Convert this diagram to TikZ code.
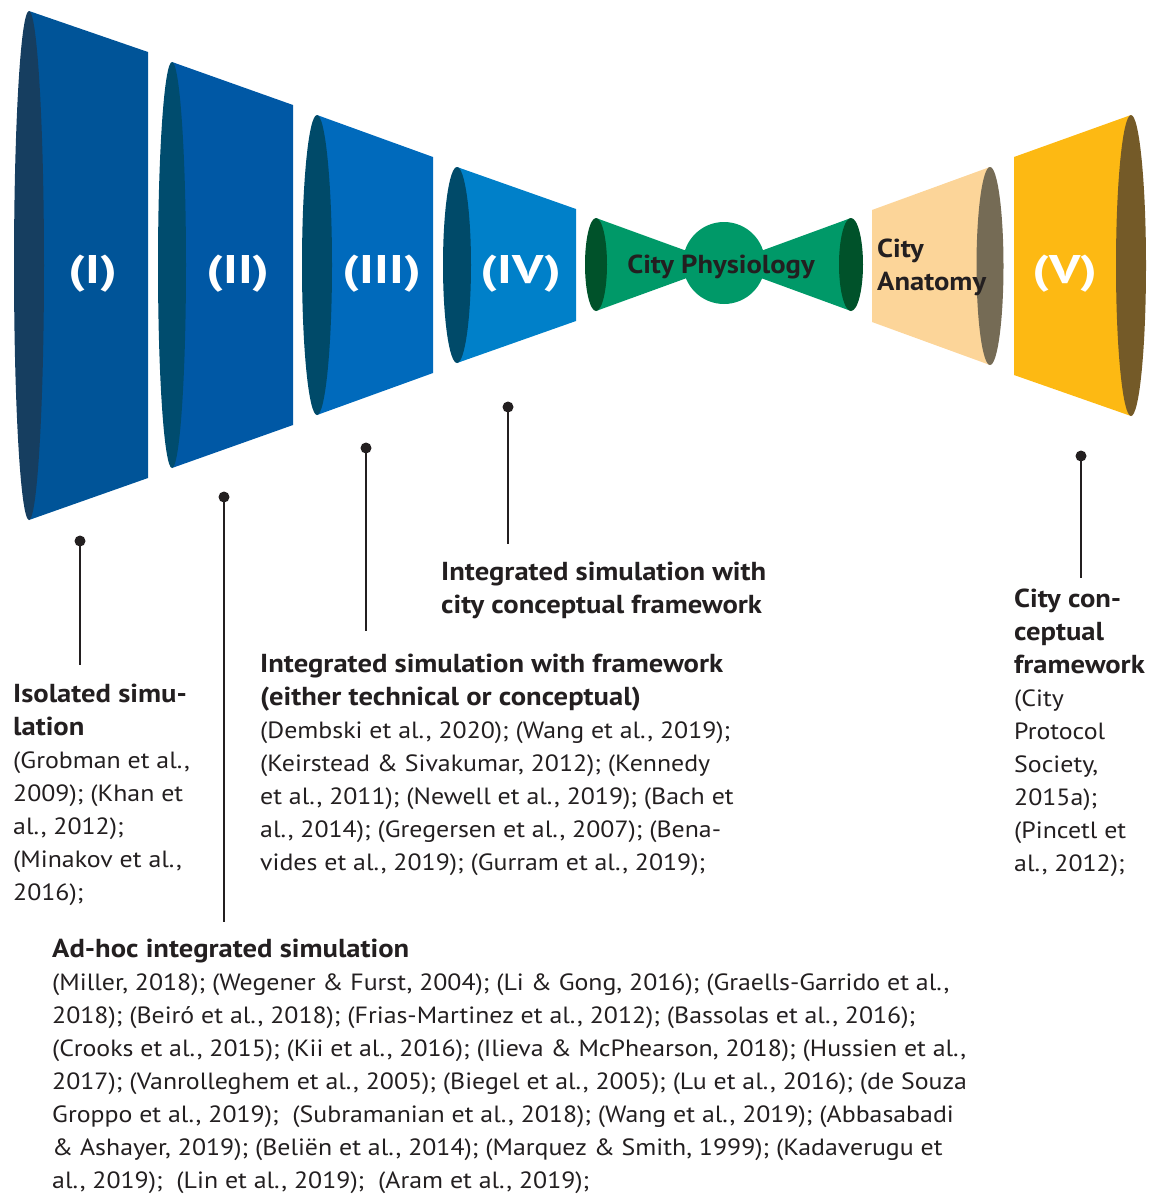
\documentclass[tikz,border=0pt]{standalone}
\usepackage{fontspec}
\setmainfont{PT Sans}[FakeStretch=1.1]
\newfontfamily\romfont{PT Sans}[FakeStretch=1.3]
\definecolor{bodyI}{RGB}{0,84,152}
\definecolor{ellI}{RGB}{22,62,96}
\definecolor{bodyII}{RGB}{0,88,165}
\definecolor{ellII}{RGB}{0,76,110}
\definecolor{bodyIII}{RGB}{0,106,188}
\definecolor{ellIII}{RGB}{0,74,105}
\definecolor{bodyIV}{RGB}{0,128,201}
\definecolor{ellIV}{RGB}{0,74,105}
\definecolor{physG}{RGB}{0,153,104}
\definecolor{physD}{RGB}{0,82,42}
\definecolor{anaB}{RGB}{252,213,153}
\definecolor{anaE}{RGB}{117,107,85}
\definecolor{vB}{RGB}{253,185,19}
\definecolor{vE}{RGB}{116,90,40}
\definecolor{ink}{RGB}{35,31,32}
\newcommand\hd{\bfseries\fontsize{26}{33}\selectfont}
\begin{document}
\begin{tikzpicture}[x=1pt,y=-1pt,
  dot/.style={circle,fill=ink,inner sep=0pt,minimum size=11pt},
  stem/.style={line width=2pt,ink},
  txt/.style={anchor=base west,inner sep=0pt,text=ink,font=\fontsize{23.5}{33}\selectfont},
  roman/.style={anchor=base,inner sep=0pt,text=white,font=\romfont\bfseries\fontsize{40}{44}\selectfont},
  dark/.style={anchor=base,inner sep=0pt,text=ink,font=\bfseries\fontsize{26}{33}\selectfont}]
\useasboundingbox (0,0) rectangle (1153,1195);
% (I)
\fill[bodyI] (29,11) -- (148,52) -- (148,478) -- (29,520) -- cycle;
\fill[ellI] (29,265.5) ellipse [x radius=15pt, y radius=254.5pt];
\node[roman] (rI) at (93,283) {(I)};
% (II)
\fill[bodyII] (172,62) -- (293,105) -- (293,425) -- (172,468) -- cycle;
\fill[ellII] (172,265) ellipse [x radius=14pt, y radius=203pt];
\node[roman] (rII) at (238,283) {(II)};
% (III)
\fill[bodyIII] (317,115) -- (433,157) -- (433,373) -- (317,415) -- cycle;
\fill[ellIII] (317,265) ellipse [x radius=15pt, y radius=150pt];
\node[roman] (rIII) at (382,283) {(III)};
% (IV)
\fill[bodyIV] (457,167) -- (576,209) -- (576,321) -- (457,363) -- cycle;
\fill[ellIV] (457,265) ellipse [x radius=14pt, y radius=98pt];
\node[roman] (rIV) at (521,283) {(IV)};
% City physiology
\fill[physG] (596,218) -- (724,264.5) -- (596,311) -- cycle;
\fill[physG] (851,218) -- (724,264.5) -- (851,311) -- cycle;
\fill[physG] (724,263) circle [radius=41pt];
\fill[physD] (596,264.5) ellipse [x radius=11pt, y radius=46.5pt];
\fill[physD] (851,264.5) ellipse [x radius=12pt, y radius=46.5pt];
\node[dark] (phys) at (721,273) {City Physiology};
% City anatomy
\fill[anaB] (872,210) -- (990,167) -- (990,365) -- (872,322) -- cycle;
\fill[anaE] (990,266) ellipse [x radius=13.5pt, y radius=99pt];
\node[dark,anchor=base west] (ana) at (877,257)
  {\begin{tabular}[t]{@{}l@{}}City\\Anatomy\end{tabular}};
% (V)
\fill[vB] (1014,157) -- (1131,115) -- (1131,416) -- (1014,375) -- cycle;
\fill[vE] (1131,265.5) ellipse [x radius=15pt, y radius=150.5pt];
\node[roman] (rV) at (1065,283) {(V)};
% stems
\node[dot] (d1) at (80,541) {};
\coordinate (e1) at (80,665);
\draw[stem] (d1.center) -- (e1);
\node[dot] (d2) at (224,497) {};
\coordinate (e2) at (224,922);
\draw[stem] (d2.center) -- (e2);
\node[dot] (d3) at (366,448) {};
\coordinate (e3) at (366,631);
\draw[stem] (d3.center) -- (e3);
\node[dot] (d4) at (508,407) {};
\coordinate (e4) at (508,544);
\draw[stem] (d4.center) -- (e4);
\node[dot] (d5) at (1081,456) {};
\coordinate (e5) at (1081,578);
\draw[stem] (d5.center) -- (e5);
% texts
\node[txt] (t1) at (13,702) {\begin{tabular}[t]{@{}l@{}}
{\hd Isolated simu-}\\
{\hd lation}\\
(Grobman et al.,\\
2009); (Khan et\\
al., 2012);\\
(Minakov et al.,\\
2016);
\end{tabular}};
\node[txt] (t3) at (260,672) {\begin{tabular}[t]{@{}l@{}}
{\hd Integrated simulation with framework}\\
{\hd (either technical or conceptual)}\\
(Dembski et al., 2020); (Wang et al., 2019);\\
(Keirstead \& Sivakumar, 2012); (Kennedy\\
et al., 2011); (Newell et al., 2019); (Bach et\\
al., 2014); (Gregersen et al., 2007); (Bena-\\
vides et al., 2019); (Gurram et al., 2019);
\end{tabular}};
\node[txt] (t4) at (441,580) {\begin{tabular}[t]{@{}l@{}}
{\hd Integrated simulation with}\\
{\hd city conceptual framework}
\end{tabular}};
\node[txt] (t5) at (1014,607) {\begin{tabular}[t]{@{}l@{}}
{\hd City con-}\\
{\hd ceptual}\\
{\hd framework}\\
(City\\
Protocol\\
Society,\\
2015a);\\
(Pincetl et\\
al., 2012);
\end{tabular}};
\node[txt] (t2) at (52,957) {\begin{tabular}[t]{@{}l@{}}
{\hd Ad-hoc integrated simulation}\\
(Miller, 2018); (Wegener \& Furst, 2004); (Li \& Gong, 2016); (Graells-Garrido et al.,\\
2018); (Beiró et al., 2018); (Frias-Martinez et al., 2012); (Bassolas et al., 2016);\\
(Crooks et al., 2015); (Kii et al., 2016); (Ilieva \& McPhearson, 2018); (Hussien et al.,\\
2017); (Vanrolleghem et al., 2005); (Biegel et al., 2005); (Lu et al., 2016); (de Souza\\
Groppo et al., 2019);\ \ (Subramanian et al., 2018); (Wang et al., 2019); (Abbasabadi\\
\& Ashayer, 2019); (Beliën et al., 2014); (Marquez \& Smith, 1999); (Kadaverugu et\\
al., 2019);\ \ (Lin et al., 2019);\ \ (Aram et al., 2019);
\end{tabular}};
\end{tikzpicture}
\end{document}
